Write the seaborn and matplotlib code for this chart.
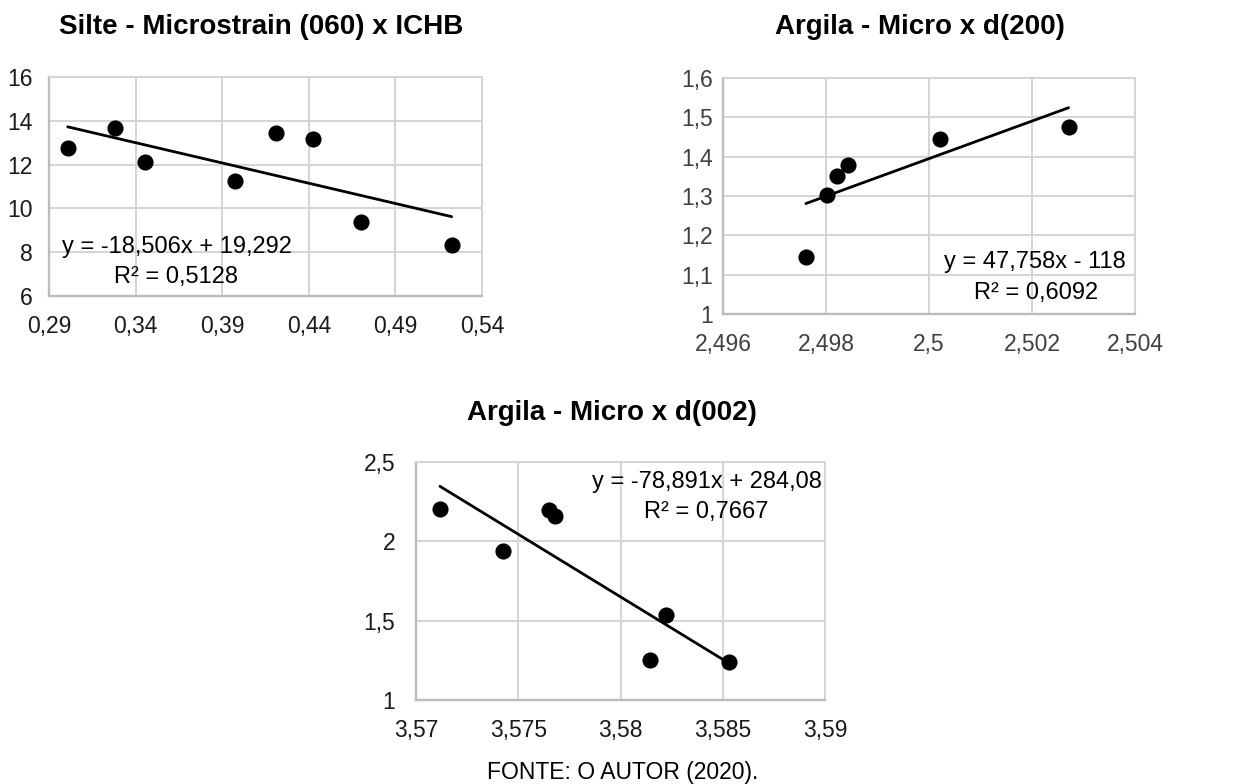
import numpy as np
import pandas as pd
import matplotlib
matplotlib.use("Agg")
import matplotlib.pyplot as plt
import seaborn as sns

# ---------------- data ----------------
# Chart 1: Silte - Microstrain (060) x ICHB
silte_x = [0.3008, 0.3281, 0.3456, 0.3974, 0.4213, 0.4424, 0.4703, 0.5225]
silte_y = [12.75, 13.68, 12.11, 11.25, 13.45, 13.18, 9.40, 8.32]
silte_slope, silte_intercept = -18.506, 19.292
silte_eq = ["y = -18,506x + 19,292", "R² = 0,5128"]
silte_xticks = [0.29, 0.34, 0.39, 0.44, 0.49, 0.54]
silte_xlabels = ["0,29", "0,34", "0,39", "0,44", "0,49", "0,54"]
silte_yticks = [6, 8, 10, 12, 14, 16]
silte_ylabels = ["6", "8", "10", "12", "14", "16"]

# Chart 2: Argila - Micro x d(200)
d200_x = [2.49761, 2.49802, 2.49821, 2.49842, 2.50021, 2.50271]
d200_y = [1.144, 1.302, 1.350, 1.380, 1.445, 1.476]
d200_slope, d200_intercept = 47.758, -118.0
d200_eq = ["y = 47,758x - 118", "R² = 0,6092"]
d200_xticks = [2.496, 2.498, 2.500, 2.502, 2.504]
d200_xlabels = ["2,496", "2,498", "2,5", "2,502", "2,504"]
d200_yticks = [1.0, 1.1, 1.2, 1.3, 1.4, 1.5, 1.6]
d200_ylabels = ["1", "1,1", "1,2", "1,3", "1,4", "1,5", "1,6"]

# Chart 3: Argila - Micro x d(002)
d002_x = [3.57117, 3.57427, 3.57650, 3.57681, 3.58144, 3.58224, 3.58532]
d002_y = [2.206, 1.942, 2.196, 2.162, 1.252, 1.533, 1.237]
d002_slope, d002_intercept = -78.891, 284.08
d002_eq = ["y = -78,891x + 284,08", "R² = 0,7667"]
d002_xticks = [3.57, 3.575, 3.58, 3.585, 3.59]
d002_xlabels = ["3,57", "3,575", "3,58", "3,585", "3,59"]
d002_yticks = [1.0, 1.5, 2.0, 2.5]
d002_ylabels = ["1", "1,5", "2", "2,5"]

titles = ["Silte - Microstrain (060) x ICHB", "Argila - Micro x d(200)", "Argila - Micro x d(002)"]
source_text = "FONTE: O AUTOR (2020)."

# ---------------- style ----------------
sns.set_theme(style="white")
plt.rcParams['font.family'] = ['Liberation Sans', 'DejaVu Sans']

W, H = 1250, 784
fig = plt.figure(figsize=(W / 100, H / 100), dpi=100)
fig.patch.set_facecolor("white")


def px_axes(left, top, right, bottom):
    return fig.add_axes([left / W, 1 - bottom / H, (right - left) / W, (bottom - top) / H])


def draw(ax, xs, ys, slope, intercept, xticks, xlabels, yticks, ylabels,
         tick_color, ypad):
    df = pd.DataFrame({"x": xs, "y": ys})
    xr = np.array([min(xs), max(xs)])
    trend = pd.DataFrame({"x": xr, "y": slope * xr + intercept})
    sns.lineplot(data=trend, x="x", y="y", ax=ax, color="black", linewidth=2.0, zorder=3)
    sns.scatterplot(data=df, x="x", y="y", ax=ax, color="black", s=135,
                    edgecolor="black", linewidth=0, zorder=4)
    ax.set_xlim(xticks[0], xticks[-1])
    ax.set_ylim(yticks[0], yticks[-1])
    ax.set_xticks(xticks)
    ax.set_xticklabels(xlabels)
    ax.set_yticks(yticks)
    ax.set_yticklabels(ylabels)
    ax.set_xlabel("")
    ax.set_ylabel("")
    ax.grid(True, color="#d4d4d4", linewidth=1.4)
    ax.set_axisbelow(True)
    for s in ax.spines.values():
        s.set_color("#d4d4d4")
        s.set_linewidth(1.4)
    ax.spines["left"].set_color("#bcbcbc")
    ax.spines["bottom"].set_color("#bcbcbc")
    ax.spines["left"].set_linewidth(1.7)
    ax.spines["bottom"].set_linewidth(1.7)
    ax.tick_params(axis="both", length=0, labelsize=16.5, colors=tick_color)
    ax.tick_params(axis="x", pad=14)
    ax.tick_params(axis="y", pad=ypad)


ax1 = px_axes(49, 77, 482, 296)
draw(ax1, silte_x, silte_y, silte_slope, silte_intercept,
     silte_xticks, silte_xlabels, silte_yticks, silte_ylabels, "#1a1a1a", 12)

ax2 = px_axes(723, 78, 1135, 314)
draw(ax2, d200_x, d200_y, d200_slope, d200_intercept,
     d200_xticks, d200_xlabels, d200_yticks, d200_ylabels, "#404040", 7)

ax3 = px_axes(416, 462, 825, 700)
draw(ax3, d002_x, d002_y, d002_slope, d002_intercept,
     d002_xticks, d002_xlabels, d002_yticks, d002_ylabels, "#1a1a1a", 15)


def ftext(x, y, s, **kw):
    fig.text(x / W, 1 - y / H, s, ha="center", va="center", **kw)


# titles
ftext(261, 27, titles[0], fontsize=20, fontweight="bold", color="black")
ftext(920, 27, titles[1], fontsize=20, fontweight="bold", color="black")
ftext(612, 413, titles[2], fontsize=20, fontweight="bold", color="black")

# equations
ftext(177, 247, silte_eq[0], fontsize=17, color="black")
ftext(176, 277, silte_eq[1], fontsize=17, color="black")
ftext(1035, 262, d200_eq[0], fontsize=17, color="black")
ftext(1036, 293, d200_eq[1], fontsize=17, color="black")
ftext(707, 482, d002_eq[0], fontsize=17, color="black")
ftext(706, 512, d002_eq[1], fontsize=17, color="black")

# source
ftext(623, 772, source_text, fontsize=16.5, color="black")

fig.savefig("out.png", dpi=100, facecolor="white")
